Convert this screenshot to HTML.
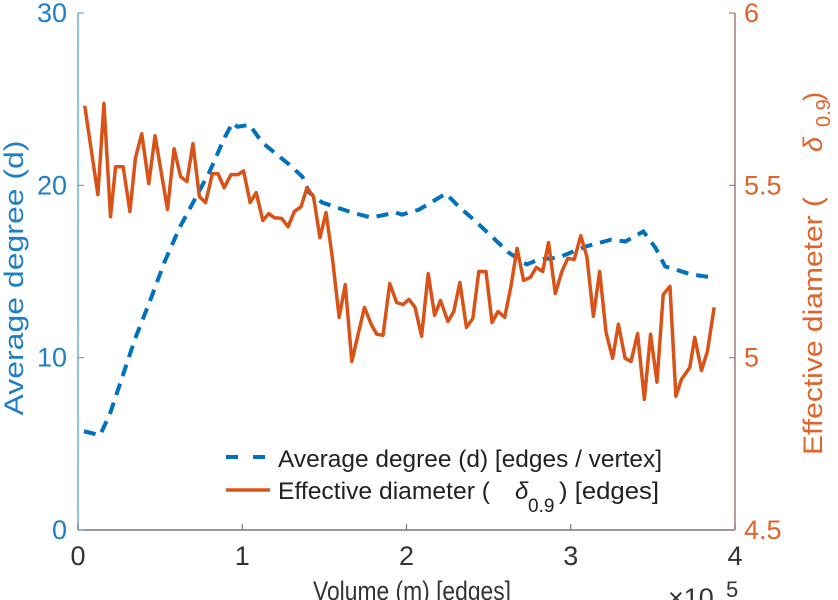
<!DOCTYPE html>
<html><head><meta charset="utf-8"><style>
body{margin:0;background:#fff;}
svg{display:block;font-family:"Liberation Sans",sans-serif;}
</style></head><body>
<svg id="chart" width="838" height="600"></svg>
<script>
const degX=[0.036,0.134,0.194,0.255,0.346,0.437,0.528,0.619,0.710,0.801,0.892,0.941,0.971,1.044,1.123,1.287,1.366,1.408,1.487,1.669,1.785,1.936,1.973,2.076,2.240,2.319,2.422,2.519,2.622,2.732,2.804,2.926,3.090,3.247,3.332,3.442,3.515,3.575,3.636,3.733,3.867];
const degY=[5.73,5.50,6.72,8.46,11.06,13.26,15.58,17.55,19.17,20.79,22.76,23.63,23.40,23.51,22.47,21.20,20.50,19.58,19.00,18.42,18.13,18.42,18.30,18.59,19.52,18.76,17.90,17.03,16.10,15.41,15.69,15.81,16.45,16.85,16.74,17.32,16.39,15.29,15.12,14.83,14.65];
const diaX=[0.041,0.121,0.158,0.198,0.229,0.275,0.316,0.350,0.388,0.431,0.469,0.545,0.585,0.625,0.663,0.700,0.739,0.777,0.818,0.852,0.890,0.931,0.973,1.008,1.048,1.085,1.125,1.161,1.196,1.240,1.279,1.317,1.358,1.394,1.434,1.473,1.510,1.548,1.590,1.627,1.667,1.744,1.785,1.819,1.857,1.898,1.940,1.979,2.015,2.052,2.092,2.132,2.171,2.207,2.252,2.288,2.325,2.365,2.404,2.440,2.484,2.521,2.557,2.598,2.636,2.673,2.713,2.754,2.790,2.829,2.865,2.906,2.946,2.982,3.021,3.061,3.098,3.138,3.176,3.215,3.255,3.290,3.331,3.367,3.407,3.448,3.486,3.525,3.563,3.604,3.640,3.674,3.725,3.755,3.796,3.832,3.873];
const diaY=[5.731,5.473,5.737,5.409,5.554,5.554,5.424,5.580,5.650,5.505,5.644,5.430,5.606,5.525,5.511,5.621,5.467,5.450,5.534,5.534,5.493,5.531,5.531,5.542,5.450,5.479,5.398,5.418,5.406,5.404,5.380,5.424,5.438,5.493,5.467,5.348,5.421,5.293,5.117,5.212,4.989,5.146,5.097,5.068,5.065,5.215,5.160,5.154,5.169,5.146,5.062,5.244,5.123,5.166,5.105,5.134,5.218,5.088,5.114,5.250,5.250,5.102,5.134,5.117,5.207,5.317,5.224,5.233,5.262,5.250,5.334,5.186,5.250,5.288,5.285,5.354,5.293,5.120,5.250,5.073,4.998,5.097,4.998,4.989,5.070,4.879,5.068,4.929,5.183,5.207,4.888,4.937,4.972,5.059,4.963,5.018,5.146];
const xTicks=[0,1,2,3,4];
const yLTicks=[0,10,20,30];
const yRTicks=[4.5,5,5.5,6];

const L=78,R=735,T=13,B=530;
const sx=v=>L+(v-0)/4*(R-L);
const syL=v=>B-(v/30)*(B-T);
const syR=v=>B-((v-4.5)/1.5)*(B-T);
const svg=document.getElementById('chart');
const NS='http://www.w3.org/2000/svg';
function mk(tag,attrs,parent){const e=document.createElementNS(NS,tag);for(const k in attrs)e.setAttribute(k,attrs[k]);(parent||svg).appendChild(e);return e;}
function txt(s,attrs,parent){const e=mk('text',attrs,parent);e.textContent=s;return e;}

let a=mk('line',{x1:L,y1:B,x2:R,y2:B,stroke:'#777','stroke-width':1.5});


a=mk('line',{x1:L,y1:T,x2:L,y2:B,stroke:'#6fa9d8','stroke-width':1.5});


a=mk('line',{x1:R,y1:T,x2:R,y2:B,stroke:'#a57d72','stroke-width':1.5});



xTicks.forEach(v=>{
  const t=mk('line',{x1:sx(v),y1:B,x2:sx(v),y2:B-6,stroke:'#777','stroke-width':1.2});
  
  
  const l=txt(String(v),{x:sx(v),y:565,'text-anchor':'middle','font-size':27,fill:'#333'});
  
  
});
yLTicks.forEach(v=>{
  const t=mk('line',{x1:L,y1:syL(v),x2:L+6,y2:syL(v),stroke:'#6fa9d8','stroke-width':1.2});
  
  
  const l=txt(String(v),{x:67,y:syL(v)+9,'text-anchor':'end','font-size':27,fill:'#1f7fc4'});
  
  
});
yRTicks.forEach(v=>{
  const t=mk('line',{x1:R,y1:syR(v),x2:R-6,y2:syR(v),stroke:'#a57d72','stroke-width':1.2});
  
  
  const l=txt(String(v),{x:R+9,y:syR(v)+9,'text-anchor':'start','font-size':27,fill:'#e0632a'});
  
  
});

let p=mk('polyline',{points:degX.map((x,i)=>sx(x)+','+syL(degY[i])).join(' '),fill:'none',stroke:'#0072BD','stroke-width':4,'stroke-dasharray':'12,8'});


p=mk('polyline',{points:diaX.map((x,i)=>sx(x)+','+syR(diaY[i])).join(' '),fill:'none',stroke:'#D95319','stroke-width':3.5,'stroke-linejoin':'round'});



let t=txt('Volume (m) [edges]',{x:313,y:600,'font-size':27,textLength:198,lengthAdjust:'spacingAndGlyphs',fill:'#333'});


t=txt('×10',{x:668,y:607,'font-size':27,fill:'#333'});


t=txt('5',{x:726,y:597,'font-size':22,fill:'#333'});


t=txt('Average degree (d)',{x:0,y:0,'text-anchor':'middle','font-size':27,textLength:275,lengthAdjust:'spacingAndGlyphs',fill:'#1f7fc4',transform:'translate(23,278) rotate(-90)'});


t=txt('Effective diameter (',{x:0,y:0,'font-size':27,textLength:258,lengthAdjust:'spacingAndGlyphs',fill:'#e0632a',transform:'translate(822,455) rotate(-90)'});


t=txt('δ',{x:0,y:0,'font-size':27,'font-style':'italic',fill:'#e0632a',transform:'translate(822,152) rotate(-90)'});


t=txt('0.9',{x:0,y:0,'font-size':20,fill:'#e0632a',transform:'translate(830,127) rotate(-90)'});


t=txt(')',{x:0,y:0,'font-size':27,fill:'#e0632a',transform:'translate(822,101) rotate(-90)'});



let g=mk('g',{});


let e=mk('line',{x1:226,y1:457,x2:268,y2:457,stroke:'#0072BD','stroke-width':4,'stroke-dasharray':'12,15'},g);


e=txt('Average degree (d) [edges / vertex]',{x:278,y:467,'font-size':24,textLength:384,lengthAdjust:'spacingAndGlyphs',fill:'#222'},g);


e=mk('line',{x1:226,y1:490,x2:270,y2:490,stroke:'#D95319','stroke-width':3.5},g);


e=txt('Effective diameter (',{x:278,y:499,'font-size':24,textLength:212,lengthAdjust:'spacingAndGlyphs',fill:'#222'},g);


e=txt('δ',{x:515,y:499,'font-size':24,'font-style':'italic',fill:'#222'},g);


e=txt('0.9',{x:528,y:512,'font-size':19,fill:'#222'},g);


e=txt(') [edges]',{x:559,y:499,'font-size':24,textLength:100,lengthAdjust:'spacingAndGlyphs',fill:'#222'},g);


</script>
</body></html>
